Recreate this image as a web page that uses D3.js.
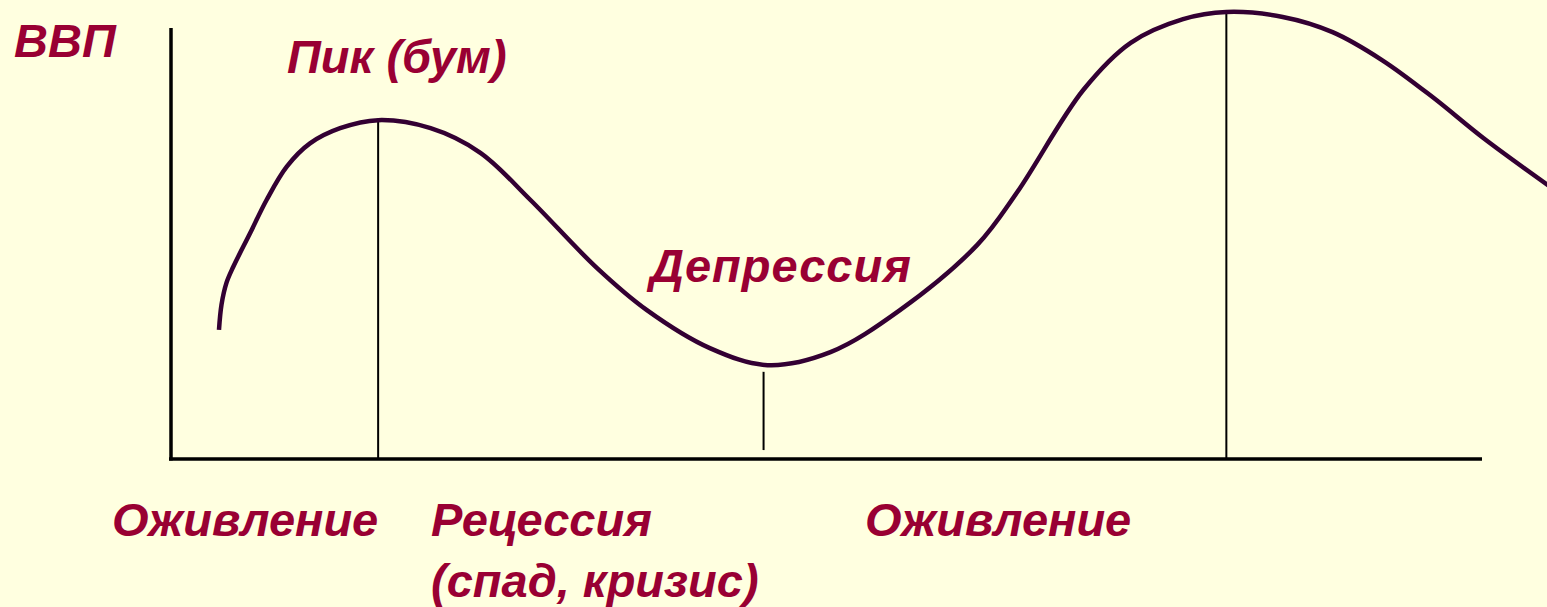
<!DOCTYPE html>
<html>
<head>
<meta charset="utf-8">
<script src="https://cdn.jsdelivr.net/npm/d3@7"></script>
<style>
  html, body { margin: 0; padding: 0; background: #FFFFE0; overflow: hidden; }
  .label { font-family: "Liberation Sans", Arial, sans-serif; font-weight: bold; font-style: italic; fill: #990033; }
</style>
</head>
<body>
<div id="chart"></div>
<script>

// Size of the picture
const width = 1547;
const height = 607;

// Business cycle curve: time (0..100 along the x axis) and GDP level (0..100)
const time = [3.66, 3.85, 4.23, 4.75, 6.03, 7.30, 8.83, 10.6, 12.9, 15.8, 19.8, 23.6, 27.4,
  32.5, 36.3, 41.1, 45.5, 50.3, 55.6, 61.5, 64.5, 69.6, 73.2, 77.2, 80.5,
  84.8, 88.6, 92.4, 96.3, 100.1, 105.2];
const gdp = [28.9, 34.5, 39.4, 43.0, 50.5, 58.0, 65.4, 70.6, 74.0, 75.8, 74.0, 68.5, 58.0,
  42.7, 33.3, 24.8, 21.0, 23.9, 33.3, 47.9, 59.5, 82.6, 93.1, 98.4, 100.0,
  98.9, 95.5, 89.2, 80.8, 71.8, 60.9];

// Vertical marker lines (peak, trough, peak): time, top and bottom level
const markerTime = [15.8, 45.2, 80.5];
const markerTop = [75.8, 19.5, 100.2];
const markerBottom = [0, 2, 0];

// Text labels
const phaseLabels = ["Пик (бум)", "Депрессия"];
const bottomLabels = ["Оживление", "Рецессия", "(спад, кризис)", "Оживление"];
const axisLabel = "ВВП";
const yAxisTop = 96.4;

const svg = d3.select("#chart")
  .append("svg")
  .attr("width", width)
  .attr("height", height);

// background
svg.append("rect")
  .attr("width", width)
  .attr("height", height)
  .attr("fill", "#FFFFE0");

// scales
const xScale = d3.scaleLinear()
  .domain([0, 100])
  .range([171, 1482]);

const yScale = d3.scaleLinear()
  .domain([0, 100])
  .range([459, 12]);

// axes (just the lines, no ticks)
svg.append("line")
  .attr("x1", xScale(0)).attr("x2", xScale(0))
  .attr("y1", yScale(yAxisTop)).attr("y2", yScale(0) + 1.5)
  .attr("stroke", "#000").attr("stroke-width", 3.5);

svg.append("line")
  .attr("x1", xScale(0) - 2).attr("x2", xScale(100))
  .attr("y1", yScale(0)).attr("y2", yScale(0))
  .attr("stroke", "#000").attr("stroke-width", 3.5);

// vertical marker lines
svg.selectAll(".marker")
  .data(markerTime)
  .enter()
  .append("line")
    .attr("class", "marker")
    .attr("x1", d => xScale(d))
    .attr("x2", d => xScale(d))
    .attr("y1", (d, i) => yScale(markerTop[i]))
    .attr("y2", (d, i) => yScale(markerBottom[i]))
    .attr("stroke", "#000")
    .attr("stroke-width", 2);

// the curve
const points = time.map((t, i) => [t, gdp[i]]);
const line = d3.line()
  .x(d => xScale(d[0]))
  .y(d => yScale(d[1]))
  .curve(d3.curveCatmullRom.alpha(0.5));

svg.append("path")
  .datum(points)
  .attr("d", line)
  .attr("fill", "none")
  .attr("stroke", "#330033")
  .attr("stroke-width", 4.5)
  .attr("stroke-linejoin", "round");

// labels
const fontSize = "47px";

svg.append("text").attr("class", "label")
  .attr("x", 14).attr("y", 57)
  .style("font-size", fontSize)
  .text(axisLabel);

svg.append("text").attr("class", "label")
  .attr("x", 287).attr("y", 73)
  .style("font-size", fontSize)
  .text(phaseLabels[0]);

svg.append("text").attr("class", "label")
  .attr("x", 650).attr("y", 282)
  .style("font-size", fontSize)
  .style("letter-spacing", "1px")
  .text(phaseLabels[1]);

const bottomX = [112, 431, 431, 865];
const bottomY = [536, 536, 597, 536];

svg.selectAll(".bottom")
  .data(bottomLabels)
  .enter()
  .append("text")
    .attr("class", "label bottom")
    .attr("x", (d, i) => bottomX[i])
    .attr("y", (d, i) => bottomY[i])
    .style("font-size", fontSize)
    .text(d => d);

</script>
</body>
</html>
